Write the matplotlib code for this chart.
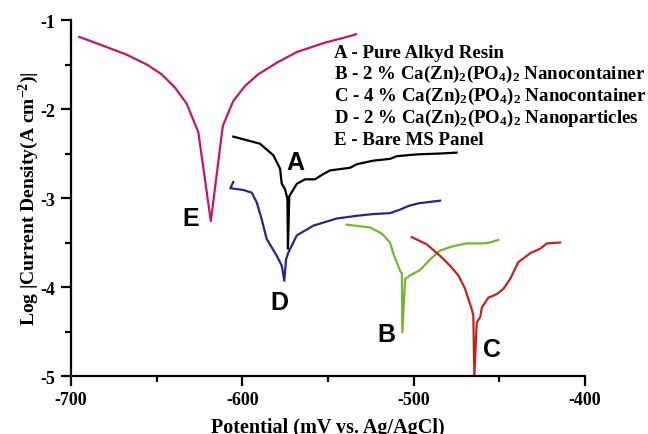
"""Tafel polarisation curves for alkyd coatings with Ca(Zn)2(PO4)2 fillers."""

import matplotlib

matplotlib.use("Agg")
import matplotlib.pyplot as plt
from matplotlib.ticker import MultipleLocator

plt.rcParams["font.family"] = "Liberation Serif"
plt.rcParams["font.weight"] = "bold"
plt.rcParams["axes.unicode_minus"] = False
plt.rcParams["mathtext.fontset"] = "custom"
plt.rcParams["mathtext.rm"] = "Liberation Serif:bold"
plt.rcParams["mathtext.it"] = "Liberation Serif:bold"
plt.rcParams["mathtext.bf"] = "Liberation Serif:bold"

# potential (mV vs Ag/AgCl) and log|i| for each sample
pot_a = [-605.3, -589.7, -581.9, -578.0, -577.0, -575.1, -573.7, -573.4,
         -572.6, -568.2, -563.4, -557.6, -552.7, -548.8, -537.1, -533.2,
         -523.5, -513.8, -509.9, -498.2, -484.6, -474.9]
log_a = [-2.31, -2.39, -2.52, -2.67, -2.84, -2.90, -3.01, -3.57,
         -2.98, -2.84, -2.79, -2.79, -2.73, -2.69, -2.66, -2.62,
         -2.58, -2.56, -2.53, -2.51, -2.50, -2.49]

pot_b = [-539.1, -525.5, -518.6, -513.8, -511.8, -507.9, -506.9, -506.6,
         -505.0, -502.1, -496.3, -490.4, -484.6, -476.8, -469.0, -459.3,
         -455.4, -450.6]
log_b = [-3.30, -3.33, -3.40, -3.50, -3.63, -3.82, -3.85, -4.51,
         -3.91, -3.87, -3.81, -3.69, -3.59, -3.54, -3.51, -3.51,
         -3.50, -3.47]

pot_c = [-501.1, -492.4, -484.6, -478.8, -473.9, -470.0, -466.1, -465.2,
         -464.6, -463.2, -461.2, -460.2, -456.4, -451.5, -447.6, -443.7,
         -438.9, -434.0, -432.0, -426.2, -422.3, -414.5]
log_c = [-3.44, -3.52, -3.65, -3.76, -3.87, -4.02, -4.25, -4.32,
         -5.00, -4.40, -4.34, -4.23, -4.12, -4.08, -4.02, -3.91,
         -3.72, -3.65, -3.62, -3.57, -3.51, -3.50]

pot_d = [-605.3, -607.0, -599.4, -594.5, -591.6, -588.7, -585.8, -579.9,
         -577.0, -575.5, -574.5, -573.1, -568.2, -558.5, -544.9, -533.2,
         -523.5, -513.8, -507.9, -503.1, -497.3, -484.6]
log_d = [-2.82, -2.89, -2.91, -2.94, -3.05, -3.24, -3.46, -3.65,
         -3.76, -3.93, -3.69, -3.61, -3.42, -3.31, -3.23, -3.20,
         -3.18, -3.17, -3.13, -3.09, -3.06, -3.03]

pot_e = [-695.2, -681.1, -667.5, -655.8, -647.1, -639.3, -632.5, -625.7,
         -618.4, -611.4, -605.3, -598.4, -590.7, -579.9, -568.2, -552.7,
         -537.1, -533.6]
log_e = [-1.19, -1.29, -1.39, -1.50, -1.61, -1.76, -1.94, -2.26,
         -3.26, -2.19, -1.91, -1.74, -1.61, -1.48, -1.36, -1.26,
         -1.18, -1.16]

# curve letter anchors
tag_text = ["A", "B", "C", "D", "E"]
tag_x = [-569.2, -515.7, -454.4, -578.4, -630.1]
tag_y = [-2.59, -4.53, -4.70, -4.17, -3.22]

legend_lines = [
    "A - Pure Alkyd Resin",
    "B - 2 % Ca(Zn)$_2$(PO$_4$)$_2$ Nanocontainer",
    "C - 4 % Ca(Zn)$_2$(PO$_4$)$_2$ Nanocontainer",
    "D - 2 % Ca(Zn)$_2$(PO$_4$)$_2$ Nanoparticles",
    "E - Bare MS Panel",
]

fig = plt.figure(figsize=(6.48, 4.35), dpi=100)
ax = fig.add_axes([0.1096, 0.1333, 0.7932, 0.8184])

lw = 1.6
ax.plot(pot_e, log_e, color="#C2166C", lw=lw)
ax.plot(pot_a, log_a, color="black", lw=lw)
ax.plot(pot_d, log_d, color="#2A2589", lw=lw)
ax.plot(pot_b, log_b, color="#78B52E", lw=lw)
ax.plot(pot_c, log_c, color="#C2221E", lw=lw)

for t, x, y in zip(tag_text, tag_x, tag_y):
    ax.text(x, y, t, fontsize=18, fontweight="bold", family="Liberation Sans",
            ha="center", va="center")

for i, line in enumerate(legend_lines):
    fig.text(334 / 648, 1 - (53 + 21.8 * i) / 435, line, fontsize=13.6,
             fontweight="bold", va="center", ha="left")

ax.set_xlim(-700, -400)
ax.set_ylim(-5, -1)
ax.xaxis.set_major_locator(MultipleLocator(100))
ax.xaxis.set_minor_locator(MultipleLocator(50))
ax.yaxis.set_major_locator(MultipleLocator(1))
ax.yaxis.set_minor_locator(MultipleLocator(0.5))
ax.tick_params(which="major", length=7, width=1.6, labelsize=13, pad=4)
ax.tick_params(which="minor", length=4, width=1.6)
for side in ("top", "right"):
    ax.spines[side].set_visible(False)
for side in ("left", "bottom"):
    ax.spines[side].set_linewidth(1.6)
for t in ax.get_xticklabels() + ax.get_yticklabels():
    t.set_fontweight("bold")

ax.set_xlabel("Potential (mV vs. Ag/AgCl)", fontsize=14.5, fontweight="bold",
              labelpad=6)
ax.set_ylabel("Log |Current Density(A cm$^{-2}$)|", fontsize=14,
              fontweight="bold", labelpad=0)

fig.savefig("out.png", dpi=100)
